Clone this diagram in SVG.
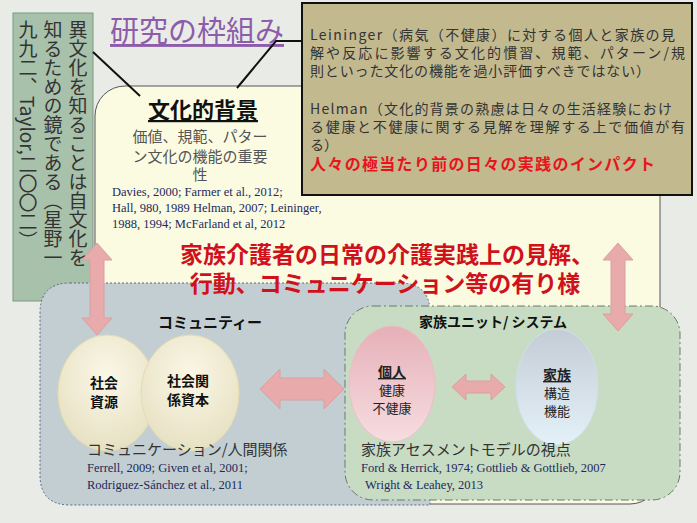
<svg xmlns="http://www.w3.org/2000/svg" width="697" height="523" viewBox="0 0 697 523">
<defs>
<style>
.jp{font-family:"Noto Sans CJK JP","Noto Sans",sans-serif}
.ref{font-family:"Liberation Serif","DejaVu Serif",serif;font-size:12.5px;fill:#1c2a5a}
.arrow{fill:#e8aaaa;stroke:#d8a0a0;stroke-width:1}
</style>
<radialGradient id="cream" cx="0.5" cy="0.35" r="0.7"><stop offset="0" stop-color="#fbf7e6"/><stop offset="1" stop-color="#e5dfc0"/></radialGradient>
<linearGradient id="pink" x1="0" y1="0" x2="0" y2="1"><stop offset="0" stop-color="#e6b0b8"/><stop offset="1" stop-color="#f6dde0"/></linearGradient>
<linearGradient id="blue" x1="0" y1="0" x2="0" y2="1"><stop offset="0" stop-color="#c4ccd6"/><stop offset="1" stop-color="#e4f1f8"/></linearGradient>
</defs>
<rect width="697" height="523" fill="#e9ece6"/>
<g id="main"><rect x="95" y="86" width="565" height="418" rx="30" fill="#fbfbe2" stroke="#555" stroke-width="1"/></g>
<g id="title"><text x="110" y="42" class="jp" font-size="29" fill="#8d5cab" text-decoration="underline">研究の枠組み</text></g>
<g id="mirror">
<rect x="13" y="13" width="80" height="288" fill="#a8c1aa" stroke="#7a9a80"/>
<text class="jp" font-size="19" fill="#333" style="writing-mode:vertical-rl"><tspan x="78" y="20">異文化を知ることは自文化を</tspan></text>
<text class="jp" font-size="19" fill="#333" style="writing-mode:vertical-rl"><tspan x="53" y="20">知るための鏡である（星野一</tspan></text>
<text class="jp" font-size="19" fill="#333" style="writing-mode:vertical-rl"><tspan x="28" y="20">九九二、Taylor,二〇〇二）</tspan></text>
</g>
<g id="connectors" stroke="#111" stroke-width="2" fill="none">
<line x1="93" y1="52" x2="140" y2="96"/>
<polyline points="237,88 276,41 303,41"/>
</g>
<g id="quote">
<rect x="302" y="3" width="390" height="192" fill="#c2b98f" stroke="#111" stroke-width="2"/>
<g class="jp" font-size="14" fill="#333">
<text x="310" y="40" textLength="365" lengthAdjust="spacing">Leininger（病気（不健康）に対する個人と家族の見</text>
<text x="310" y="58" textLength="375" lengthAdjust="spacing">解や反応に影響する文化的慣習、規範、パターン/規</text>
<text x="310" y="76" textLength="340" lengthAdjust="spacing">則といった文化の機能を過小評価すべきではない）</text>
<text x="310" y="114" textLength="362" lengthAdjust="spacing">Helman（文化的背景の熟慮は日々の生活経験におけ</text>
<text x="310" y="132" textLength="375" lengthAdjust="spacing">る健康と不健康に関する見解を理解する上で価値が有</text>
<text x="310" y="150">る）</text>
</g>
<text x="310" y="170" class="jp" font-size="16" font-weight="bold" fill="#e8141c" textLength="345" lengthAdjust="spacing">人々の極当たり前の日々の実践のインパクト</text>
</g>
<g id="culture">
<text x="203" y="118" class="jp" font-size="22" font-weight="bold" fill="#111" text-anchor="middle" text-decoration="underline">文化的背景</text>
<g class="jp" font-size="15" fill="#555" text-anchor="middle">
<text x="200" y="142">価値、規範、パター</text>
<text x="200" y="162">ン文化の機能の重要</text>
<text x="200" y="180">性</text>
</g>
<text x="112" y="196" class="ref">Davies, 2000; Farmer et al., 2012;</text>
<text x="112" y="212" class="ref">Hall, 980, 1989 Helman, 2007; Leininger,</text>
<text x="112" y="228" class="ref">1988, 1994; McFarland et al, 2012</text>
</g>
<g id="community">
<path d="M70,283 H400 Q430,283 430,313 V505 H70 Q40,505 40,475 V313 Q40,283 70,283 Z" fill="#c3ced2" stroke="#5a6a8a" stroke-dasharray="2,2"/>
<text x="210" y="328" class="jp" font-size="15" font-weight="bold" fill="#111" text-anchor="middle">コミュニティー</text>
</g>
<g id="headline" class="jp" font-size="23" font-weight="bold" fill="#d0111b" text-anchor="middle">
<text x="387" y="263">家族介護者の日常の介護実践上の見解、</text>
<text x="385" y="292">行動、コミュニケーション等の有り様</text>
</g>
<g id="family">
<rect x="345" y="306" width="335" height="194" rx="28" fill="#c8dcc4" stroke="#6a7a6a" stroke-dasharray="8,3,2,3"/>
<text x="493" y="327" class="jp" font-size="14" font-weight="bold" fill="#111" text-anchor="middle">家族ユニット/ システム</text>
</g>
<g id="varrows">
<path class="arrow" d="M97,243 L112,260 H104 V318 H112 L97,335 L82,318 H90 V260 H82 Z"/>
<path class="arrow" d="M618,243 L633,260 H625 V314 H633 L618,331 L603,314 H611 V260 H603 Z"/>
</g>
<g id="shakai-shigen">
<ellipse cx="107" cy="393" rx="49" ry="58" fill="url(#cream)" stroke="#e6dcae"/>
<text class="jp" font-size="14" font-weight="bold" fill="#111" text-anchor="middle"><tspan x="104" y="388">社会</tspan><tspan x="104" y="407">資源</tspan></text>
</g>
<g id="shakai-kankei">
<ellipse cx="190" cy="393" rx="49" ry="58" fill="url(#cream)" stroke="#e6dcae"/>
<text class="jp" font-size="14" font-weight="bold" fill="#111" text-anchor="middle"><tspan x="188" y="386">社会関</tspan><tspan x="188" y="405">係資本</tspan></text>
</g>
<g id="harrows">
<path class="arrow" d="M260,389 L280,369 V378 H324 V369 L344,389 L324,409 V400 H280 V409 Z"/>
<path class="arrow" d="M452,387 L466,374 V381 H491 V374 L505,387 L491,400 V393 H466 V400 Z"/>
</g>
<g id="kojin">
<ellipse cx="392" cy="384" rx="43" ry="58" fill="url(#pink)" stroke="#e8c0c4"/>
<text class="jp" text-anchor="middle" fill="#222"><tspan x="392" y="377" font-size="14" font-weight="bold" text-decoration="underline">個人</tspan><tspan x="392" y="395" font-size="13">健康</tspan><tspan x="392" y="413" font-size="13">不健康</tspan></text>
</g>
<g id="kazoku">
<ellipse cx="557" cy="387" rx="41" ry="58" fill="url(#blue)" stroke="#cde0ea"/>
<text class="jp" text-anchor="middle" fill="#222"><tspan x="557" y="380" font-size="14" font-weight="bold" text-decoration="underline">家族</tspan><tspan x="557" y="398" font-size="13">構造</tspan><tspan x="557" y="416" font-size="13">機能</tspan></text>
</g>
<g id="texts">
<text x="87" y="455" class="jp" font-size="15" fill="#333">コミュニケーション/人間関係</text>
<text x="87" y="472" class="ref">Ferrell, 2009; Given et al, 2001;</text>
<text x="87" y="489" class="ref">Rodriguez-Sánchez et al., 2011</text>
<text x="361" y="455" class="jp" font-size="15" fill="#333">家族アセスメントモデルの視点</text>
<text x="361" y="472" class="ref">Ford &amp; Herrick, 1974; Gottlieb &amp; Gottlieb, 2007</text>
<text x="365" y="489" class="ref">Wright &amp; Leahey, 2013</text>
</g>
</svg>
